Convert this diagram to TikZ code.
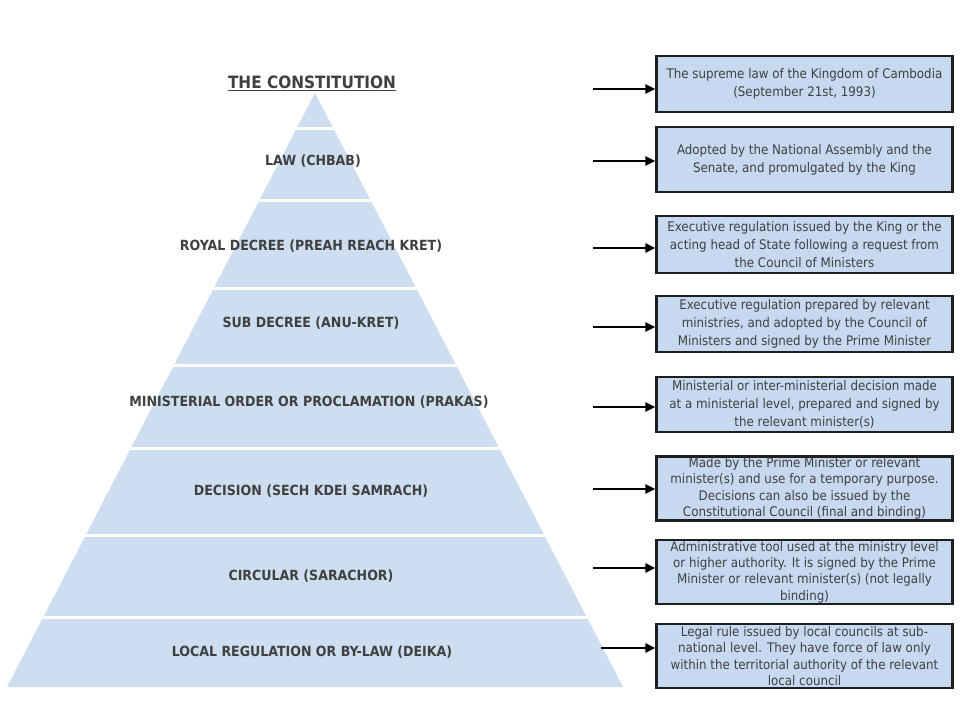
\documentclass[tikz,border=0pt]{standalone}
\usepackage{fontspec}
\IfFontExistsTF{DejaVu Sans Condensed}{\setmainfont{DejaVu Sans Condensed}}{\setmainfont{DejaVu Sans}}
\usetikzlibrary{arrows.meta}
\definecolor{pyrfill}{RGB}{204,222,240}
\definecolor{boxfill}{RGB}{198,217,240}
\definecolor{boxline}{RGB}{30,30,30}
\definecolor{txt}{RGB}{64,64,64}
\tikzset{
  lvl/.style={font=\bfseries\fontsize{14}{16}\selectfont, text=txt, inner sep=0pt},
  descbox/.style={draw=boxline, line width=2.2pt, fill=boxfill, minimum width=296pt,
    inner sep=1pt, align=center, text=txt, font=\fontsize{13.2}{17.8}\selectfont},
  tightbox/.style={descbox, font=\fontsize{13.2}{16.4}\selectfont},
  arr/.style={line width=2.2pt, draw=black, -{Triangle[length=10pt,width=9pt]}},
  sep/.style={draw=white, line width=3pt}
}
\begin{document}
\begin{tikzpicture}[x=1pt,y=-1pt]
\useasboundingbox (0,0) rectangle (960,720);
% pyramid
\fill[pyrfill] (315,93) -- (623,687) -- (7,687) -- cycle;
\begin{scope}
\clip (315,93) -- (623,687) -- (7,687) -- cycle;
\foreach \yy in {128,200,288,365,448,535,617}{
  \draw[sep] (0,\yy) -- (640,\yy);
}
\end{scope}
% title
\node[font=\bfseries\fontsize{17}{19}\selectfont, text=txt, inner sep=0pt] (title) at (312,83) {\underline{THE CONSTITUTION}};
% levels
\node[lvl] (l1) at (313,161) {LAW (CHBAB)};
\node[lvl] (l2) at (311,246) {ROYAL DECREE (PREAH REACH KRET)};
\node[lvl] (l3) at (311,323) {SUB DECREE (ANU-KRET)};
\node[lvl] (l4) at (309,402) {MINISTERIAL ORDER OR PROCLAMATION (PRAKAS)};
\node[lvl] (l5) at (311,491) {DECISION (SECH KDEI SAMRACH)};
\node[lvl] (l6) at (311,576) {CIRCULAR (SARACHOR)};
\node[lvl] (l7) at (312,652) {LOCAL REGULATION OR BY-LAW (DEIKA)};
% boxes
\node[descbox, minimum height=56pt] (b1) at (804.5,84) {The supreme law of the Kingdom of Cambodia\\(September 21st, 1993)};
\node[descbox, minimum height=65pt] (b2) at (804.5,159.5) {Adopted by the National Assembly and the\\Senate, and promulgated by the King};
\node[descbox, minimum height=57pt] (b3) at (804.5,244.5) {Executive regulation issued by the King or the\\acting head of State following a request from\\the Council of Ministers};
\node[descbox, minimum height=56pt] (b4) at (804.5,324) {Executive regulation prepared by relevant\\ministries, and adopted by the Council of\\Ministers and signed by the Prime Minister};
\node[descbox, minimum height=55pt] (b5) at (804.5,404.5) {Ministerial or inter-ministerial decision made\\at a ministerial level, prepared and signed by\\the relevant minister(s)};
\node[tightbox, minimum height=63pt] (b6) at (804.5,488.5) {Made by the Prime Minister or relevant\\minister(s) and use for a temporary purpose.\\Decisions can also be issued by the\\Constitutional Council (final and binding)};
\node[tightbox, minimum height=64pt] (b7) at (804.5,572) {Administrative tool used at the ministry level\\or higher authority. It is signed by the Prime\\Minister or relevant minister(s) (not legally\\binding)};
\node[tightbox, minimum height=64pt] (b8) at (804.5,656) {Legal rule issued by local councils at sub-\\national level. They have force of law only\\within the territorial authority of the relevant\\local council};
% arrows
\coordinate (t1) at (593,89);
\coordinate (t2) at (593,161);
\coordinate (t3) at (593,248);
\coordinate (t4) at (593,327);
\coordinate (t5) at (593,407);
\coordinate (t6) at (593,489);
\coordinate (t7) at (593,568);
\coordinate (t8) at (601,648);
\foreach \i in {1,...,8}{
  \draw[arr] (t\i) -- (t\i -| b\i.west);
}
\end{tikzpicture}
\end{document}
